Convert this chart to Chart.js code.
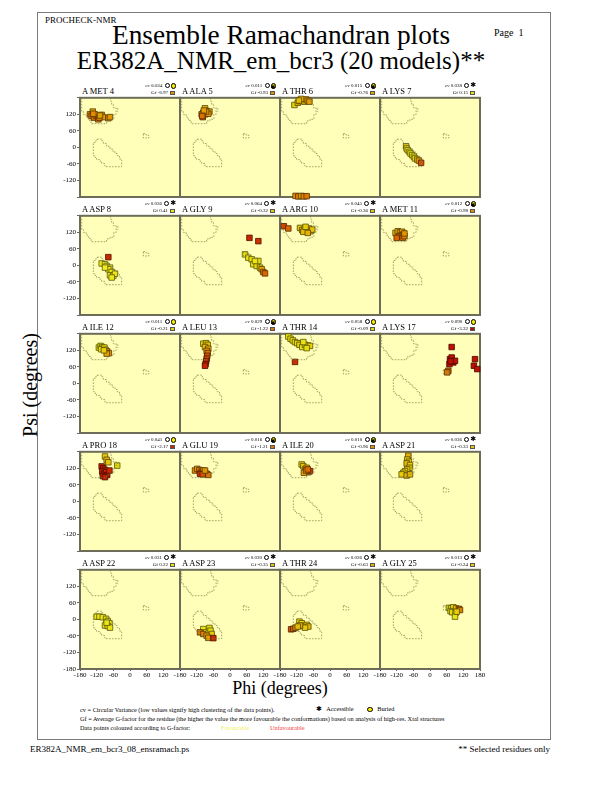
<!doctype html>
<html lang="en">
<head>
<meta charset="utf-8">
<title>Ensemble Ramachandran plots</title>
<style>
  * { margin: 0; padding: 0; }
  body {
    width: 612px; height: 792px; position: relative; overflow: hidden;
    background: #fff; color: #000;
    font-family: 'Liberation Serif', 'Times New Roman', Times, serif;
  }
  .abs { position: absolute; white-space: nowrap; }
  .frame { position: absolute; left: 37px; top: 12px; width: 512px; height: 726px; border: 1.5px solid #7a7a7a; }
  canvas { position: absolute; }
  .resname { position: absolute; white-space: nowrap; font-size: 8.5px; line-height: 9px; }
  .stat { position: absolute; white-space: nowrap; font-size: 5px; line-height: 7px; text-align: right; width: 50px; }
  .ico { display: inline-block; vertical-align: middle; margin-left: 1px; box-sizing: border-box; }
  .clock { width: 5px; height: 5px; border: 0.6px solid #000; border-radius: 50%; }
  .bur { width: 5.5px; height: 5.5px; border: 0.6px solid #000; border-radius: 50%; background: #f4e800; }
  .star { font-family: 'DejaVu Sans', sans-serif; font-size: 7px; line-height: 5px; }
  .sq { width: 4.5px; height: 4.5px; border: 0.5px solid #555; }
  .note { position: absolute; white-space: nowrap; font-size: 6.3px; line-height: 7px; left: 80px; }
</style>
</head>
<body>
<div class="frame"></div>
<div class="abs" style="left:45px; top:15px; font-size:9px;">PROCHECK-NMR</div>
<div class="abs" style="left:281px; top:22px; font-size:27.3px; line-height:27px; transform:translateX(-50%);">Ensemble Ramachandran plots</div>
<div class="abs" style="left:281px; top:48px; font-size:25px; line-height:25px; transform:translateX(-50%);">ER382A_NMR_em_bcr3 (20 models)**</div>
<div class="abs" style="left:494px; top:27px; font-size:10px;">Page&nbsp; 1</div>
<div class="abs" style="left:30px; top:385px; font-size:20px; line-height:20px; transform:translate(-50%,-50%) rotate(-90deg);">Psi (degrees)</div>
<div class="abs" style="left:280px; top:679px; font-size:18px; line-height:18px; transform:translateX(-50%);">Phi (degrees)</div>
<div class="note" style="top:706px;">cv = Circular Variance (low values signify high clustering of the data points).</div>
<div class="abs" style="left:316px; top:705px; font-size:6.3px;"><span class="star">&#10033;</span>&nbsp;&nbsp; Accessible</div>
<div class="abs" style="left:366px; top:705px; font-size:6.3px;"><span class="ico bur"></span>&nbsp;&nbsp; Buried</div>
<div class="note" style="top:715px;">Gf = Average G-factor for the residue (the higher the value the more favourable the conformations) based on analysis of high-res. Xtal structures</div>
<div class="note" style="top:724px;">Data points coloured according to G-factor:</div>
<div class="abs" style="left:221px; top:724px; font-size:6.3px; color:#f2f060;">Favourable</div>
<div class="abs" style="left:270px; top:724px; font-size:6.3px; color:#f04040;">Unfavourable</div>
<div class="abs" style="left:30px; top:744px; font-size:9px;">ER382A_NMR_em_bcr3_08_ensramach.ps</div>
<div class="abs" style="right:62px; top:744px; font-size:9px;">** Selected residues only</div>

<script src="https://cdn.jsdelivr.net/npm/chart.js/dist/chart.umd.min.js"></script>
<script>
// residue info
const residues = ['A MET 4', 'A ALA 5', 'A THR 6', 'A LYS 7',
                  'A ASP 8', 'A GLY 9', 'A ARG 10', 'A MET 11',
                  'A ILE 12', 'A LEU 13', 'A THR 14', 'A LYS 17',
                  'A PRO 18', 'A GLU 19', 'A ILE 20', 'A ASP 21',
                  'A ASP 22', 'A ASP 23', 'A THR 24', 'A GLY 25'];
const cvValues = [0.034, 0.011, 0.015, 0.038, 0.036, 0.064, 0.045, 0.012, 0.011, 0.029,
                  0.058, 0.090, 0.041, 0.016, 0.010, 0.036, 0.031, 0.030, 0.026, 0.013];
const gfValues = [-0.97, -0.93, -0.76, 0.15, 0.41, -0.32, -0.36, -0.98, -0.21, -1.22,
                  -0.09, -3.32, -2.17, -1.21, -0.96, -0.33, 0.22, -0.35, -0.63, -0.24];
// B = buried, A = accessible, M = mixed
const exposure = ['B', 'M', 'M', 'A', 'A', 'A', 'A', 'M', 'B', 'M',
                  'B', 'B', 'B', 'M', 'M', 'A', 'A', 'A', 'A', 'A'];

// [phi, psi, G-factor] per model
const met4 = [[-144,120,-1.1],[-134,130,-0.8],[-138,114,-1.2],[-130,108,-1.3],[-120,114,-1.0],[-114,102,-1.2],[-102,118,-0.9],
              [-96,110,-0.8],[-78,106,-1.0],[-72,110,-0.9],[-126,120,-0.7],[-110,108,-1.1],[-108,116,-0.8],[-132,122,-1.0]];
const ala5 = [[-90,142,-0.6],[-84,132,-0.8],[-96,126,-1.0],[-102,120,-1.2],[-98,110,-1.4],[-90,120,-1.0],[-74,130,-0.7],
              [-78,122,-0.9],[-86,130,-0.9],[-94,134,-0.8],[-100,114,-1.3]];
const thr6 = [[-128,154,-0.2],[-116,162,-0.5],[-108,168,-0.6],[-100,172,-0.7],[-92,166,-0.6],[-86,174,-0.8],[-80,170,-0.7],
              [-104,176,-0.6],[-112,170,-0.5],[-74,166,-0.8],
              [-124,-176,-1.0],[-114,-178,-1.1],[-104,-176,-0.9],[-94,-178,-1.0],[-84,-177,-1.2]];
const lys7 = [[-86,4,-0.3],[-84,-4,0.2],[-80,-10,0.3],[-74,-16,0.2],[-70,-22,0.3],[-64,-28,0.1],[-58,-34,0.2],
              [-54,-40,0.0],[-46,-44,-0.3],[-40,-48,-0.8],[-32,-56,-1.6]];
const asp8 = [[-78,30,-2.2],[-102,7,0.4],[-90,4,0.5],[-84,-2,0.5],[-72,-8,0.4],[-78,-14,0.5],[-66,-24,0.4],
              [-72,-36,0.3],[-60,-38,0.4],[-54,-30,0.3],[-66,-44,0.4],[-90,-8,0.5]];
const gly9 = [[70,100,-2.3],[102,88,-2.0],[54,40,0.1],[66,28,0.2],[78,22,0.1],[84,4,0.2],[96,-2,0.0],
              [102,16,0.1],[108,-8,-0.3],[114,-14,-0.7],[120,-24,-1.1],[126,-29,-1.4],[90,16,0.2]];
const arg10 = [[-166,142,-1.8],[-150,134,-1.4],[-108,136,-0.4],[-100,128,-0.3],[-92,132,-0.2],[-84,126,-0.5],
               [-76,134,-0.3],[-70,124,-0.6],[-64,130,-0.4],[-96,122,-0.5],[-80,118,-0.6],[-88,140,-0.2]];
const met11 = [[-124,118,-0.6],[-116,124,-0.7],[-108,120,-0.9],[-100,122,-0.8],[-96,112,-1.2],[-104,108,-1.3],
               [-112,104,-1.2],[-120,100,-1.4],[-98,100,-1.3],[-92,106,-1.1],[-92,116,-0.9]];
const ile12 = [[-112,130,0.1],[-106,136,0.0],[-100,132,-0.1],[-96,126,-0.2],[-104,124,0.0],[-92,130,-0.1],
               [-88,122,-0.3],[-82,116,-0.9],[-76,110,-1.0],[-84,108,-0.8],[-94,120,-0.2]];
const leu13 = [[-96,144,-0.2],[-86,146,-0.3],[-80,140,-0.4],[-90,132,-0.5],[-78,126,-0.7],[-84,118,-0.9],
               [-80,110,-1.2],[-82,100,-1.6],[-84,90,-1.9],[-86,80,-2.1],[-88,70,-2.3],[-90,64,-2.4]];
const thr14 = [[-126,78,-2.0],[-150,170,0.1],[-142,162,0.0],[-134,156,0.1],[-126,150,-0.1],[-118,146,0.0],
               [-110,140,-0.2],[-100,132,0.1],[-90,140,-0.1],[-80,138,0.0],[-72,136,-0.2],[-96,150,0.1],[-84,128,0.0]];
const lys17 = [[78,132,-3.0],[72,88,-3.2],[78,94,-3.3],[84,76,-3.2],[70,70,-3.0],[90,82,-3.1],[74,80,-3.3],
               [66,46,-1.4],[62,40,-1.2],[162,88,-3.0],[158,64,-3.2],[170,52,-3.1]];
const pro18 = [[-90,163,-0.3],[-84,151,-0.6],[-78,142,-0.4],[-46,130,0.0],[-102,127,-2.5],[-96,120,-2.6],
               [-90,114,-2.4],[-100,108,-2.7],[-94,100,-2.5],[-86,106,-2.3],[-82,96,-2.6],[-98,92,-2.4],[-90,88,-2.5],[-74,112,-2.2]];
const glu19 = [[-126,112,-1.0],[-118,118,-0.9],[-110,114,-1.2],[-102,108,-1.5],[-96,112,-0.6],[-90,104,-1.3],
               [-84,100,-1.4],[-78,96,-1.2],[-108,100,-2.0],[-98,98,-1.6],[-90,112,-0.9]];
const ile20 = [[-102,134,-0.2],[-96,128,-0.3],[-90,116,-0.6],[-84,122,-0.7],[-78,106,-1.2],[-72,110,-1.9],
               [-94,104,-0.8],[-86,112,-1.0],[-80,116,-1.3]];
const asp21 = [[-78,166,-0.6],[-82,152,-0.4],[-76,144,-0.3],[-84,138,-0.5],[-72,132,-0.3],[-74,122,-0.2],
               [-82,116,-0.4],[-90,110,-0.1],[-96,104,-0.3],[-102,98,-0.2],[-84,94,-0.6],[-72,98,-0.5]];
const asp22 = [[-120,10,0.3],[-110,10,0.2],[-98,8,0.3],[-86,2,0.2],[-80,-6,0.1],[-74,-14,0.2],[-90,-22,0.0],
               [-80,-24,0.1],[-72,-30,0.2],[-84,-12,0.3]];
const asp23 = [[-96,-35,0.3],[-86,-47,0.2],[-74,-31,0.1],[-70,-41,0.0],[-66,-53,-0.3],[-108,-47,-1.2],
               [-96,-53,-1.1],[-84,-59,-0.9],[-78,-67,-0.8],[-60,-68,-2.2]];
const thr24 = [[-140,-36,-1.6],[-132,-34,-1.4],[-124,-30,-1.1],[-110,-8,-0.2],[-102,-14,-0.1],[-96,-24,-0.3],
               [-84,-20,-0.4],[-78,-26,-0.5],[-90,-30,-0.3],[-108,-22,-0.6],[-116,-26,-0.5]];
const gly25 = [[68,42,0.1],[76,40,0.0],[84,44,-0.1],[94,40,-0.4],[104,38,-1.5],[108,34,-1.1],[74,30,0.1],
               [80,26,0.0],[92,24,0.1],[90,10,0.2],[96,28,-0.2]];

const residuePoints = [met4, ala5, thr6, lys7, asp8, gly9, arg10, met11, ile12, leu13,
                       thr14, lys17, pro18, glu19, ile20, asp21, asp22, asp23, thr24, gly25];

// allowed region outlines [phi, psi]
const betaRegion = [[-174,180],[-174,130],[-168,130],[-168,120],[-158,120],[-158,110],[-150,110],[-150,98],
                    [-140,98],[-140,86],[-84,86],[-84,96],[-72,96],[-72,102],[-58,102],[-58,120],[-50,120],
                    [-50,144],[-60,144],[-60,156],[-66,156],[-66,168],[-70,168],[-70,180]];
const betaDots = [[-44,142],[-44,128]];
const alphaRRegion = [[-118,30],[-102,30],[-102,24],[-96,24],[-96,14],[-84,14],[-84,4],[-72,4],[-72,-6],
                      [-62,-6],[-62,-14],[-54,-14],[-54,-22],[-46,-22],[-46,-30],[-38,-30],[-38,-42],[-30,-42],
                      [-30,-70],[-90,-70],[-90,-58],[-102,-58],[-102,-50],[-110,-50],[-110,-44],[-120,-44],
                      [-120,-36],[-126,-36],[-126,-30],[-132,-30],[-132,18],[-124,18],[-124,24],[-118,24],[-118,30]];
const alphaLRegion = [[48,50],[58,50],[58,44],[68,44],[68,34],[48,34],[48,50]];

const phiTicks = [-180, -120, -60, 0, 60, 120, 180];
const psiTicks = [-180, -120, -60, 0, 60, 120, 180];

// G-factor colour scale
const gStops = [[0.5,[240,236,30]],[0,[232,222,12]],[-0.5,[230,188,8]],[-1,[226,140,0]],
                [-1.5,[216,92,0]],[-2,[204,48,0]],[-3,[188,16,0]]];
function gRGB(g) {
  if (g >= gStops[0][0]) return gStops[0][1];
  for (let i = 1; i < gStops.length; i++) {
    const [g1, c1] = gStops[i - 1], [g2, c2] = gStops[i];
    if (g >= g2) {
      const t = (g1 - g) / (g1 - g2);
      return c1.map((v, k) => Math.round(v + (c2[k] - v) * t));
    }
  }
  return gStops[gStops.length - 1][1];
}
function gColor(g) { return 'rgb(' + gRGB(g).join(',') + ')'; }
function gEdge(g) { return 'rgb(' + gRGB(g).map(v => Math.round(v * 0.38)).join(',') + ')'; }

const L = 40, T = 4, R = 14, B = 16;
const tickFont = { family: "'Liberation Serif', 'Times New Roman', serif", size: 7 };

const panelBox = {
  id: 'panelBox',
  beforeDatasetsDraw(chart) {
    const { ctx, chartArea: a } = chart;
    ctx.save();
    ctx.fillStyle = '#ffffba';
    ctx.fillRect(a.left, a.top, a.width, a.height);
    ctx.strokeStyle = '#6c6c58';
    ctx.lineWidth = 2;
    ctx.strokeRect(a.left, a.top, a.width, a.height);
    ctx.restore();
  }
};

function region(pts) {
  return {
    data: pts.map(p => ({ x: p[0], y: p[1] })),
    showLine: true, borderColor: '#7c7c44', borderWidth: 0.7, borderDash: [1.6, 1.4],
    pointRadius: 0, fill: false
  };
}

function statHtml(i) {
  const exp = exposure[i] === 'A' ? '<span class="ico star">&#10033;</span>'
    : exposure[i] === 'B' ? '<span class="ico bur"></span>'
    : '<span class="ico bur" style="position:relative"><span class="star" style="position:absolute;left:-1px;top:0;font-size:6px;">&#10033;</span></span>';
  return '<i>cv</i> ' + cvValues[i].toFixed(3) + ' <span class="ico clock"></span>' + exp + '<br>' +
    'Gf ' + gfValues[i].toFixed(2) + ' <span class="ico sq" style="background:' + gColor(gfValues[i]) + '"></span>&nbsp;';
}

residues.forEach((name, i) => {
  const r = Math.floor(i / 4), c = i % 4;
  const x0 = 80 + 100 * c, y0 = 97 + 118 * r;

  const lab = document.createElement('div');
  lab.className = 'resname';
  lab.style.left = (x0 + 2) + 'px';
  lab.style.top = (y0 - 10) + 'px';
  lab.textContent = name;
  document.body.appendChild(lab);

  const st = document.createElement('div');
  st.className = 'stat';
  st.style.left = (x0 + 46) + 'px';
  st.style.top = (y0 - 15) + 'px';
  st.innerHTML = statHtml(i);
  document.body.appendChild(st);

  const cv = document.createElement('canvas');
  cv.width = 100 + L + R;
  cv.height = 100 + T + B;
  cv.style.left = (x0 - L) + 'px';
  cv.style.top = (y0 - T) + 'px';
  document.body.appendChild(cv);

  const showX = r === 4, showY = c === 0;
  const pts = residuePoints[i];

  new Chart(cv, {
    type: 'scatter',
    data: {
      datasets: [
        region(betaRegion), region(betaDots), region(alphaRRegion), region(alphaLRegion),
        {
          data: pts.map(p => ({ x: p[0], y: p[1] })),
          backgroundColor: pts.map(p => gColor(p[2])),
          borderColor: pts.map(p => gEdge(p[2])),
          borderWidth: 0.8, pointStyle: 'rect', pointRadius: 3.9, clip: 8
        }
      ]
    },
    options: {
      responsive: false, animation: false, events: [],
      layout: { padding: { top: T, right: R, left: 0, bottom: 0 } },
      plugins: { legend: { display: false }, tooltip: { enabled: false } },
      scales: {
        x: {
          type: 'linear', min: -180, max: 180,
          afterBuildTicks: s => { s.ticks = phiTicks.map(v => ({ value: v })); },
          ticks: {
            display: showX, font: tickFont, color: '#000', padding: 0, maxRotation: 0, autoSkip: false,
            callback: v => (v === 180 && c < 3) ? '' : String(v)
          },
          grid: { display: showX, drawOnChartArea: false, tickLength: 2, color: '#000', lineWidth: 0.6 },
          border: { display: false },
          afterFit: s => { s.height = B; s.paddingLeft = 0; s.paddingRight = 0; }
        },
        y: {
          type: 'linear', min: -180, max: 180,
          afterBuildTicks: s => { s.ticks = psiTicks.map(v => ({ value: v })); },
          ticks: {
            display: showY, font: tickFont, color: '#000', padding: 1, autoSkip: false,
            callback: v => (v === 180 || (v === -180 && r < 4)) ? '' : String(v)
          },
          grid: { display: showY, drawOnChartArea: false, tickLength: 3, color: '#000', lineWidth: 0.6 },
          border: { display: false },
          afterFit: s => { s.width = L; s.paddingTop = 0; s.paddingBottom = 0; }
        }
      }
    },
    plugins: [panelBox]
  });
});
</script>
</body>
</html>
